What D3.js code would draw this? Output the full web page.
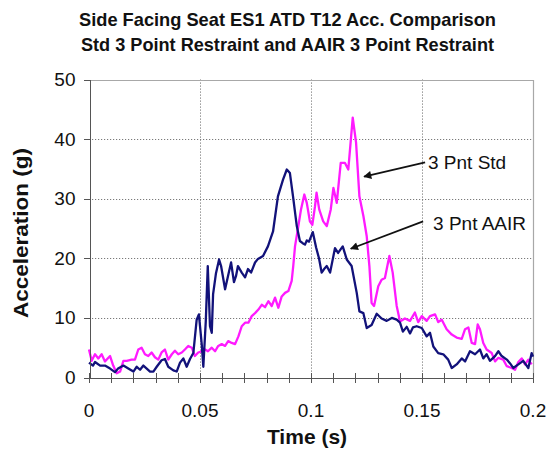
<!DOCTYPE html>
<html lang="en">
    <head>
        <meta charset="utf-8">
        <title>Side Facing Seat ES1 ATD T12 Acc. Comparison</title>
        <!-- Load d3.js -->
        <script src="https://d3js.org/d3.v7.min.js"></script>
    </head>

    <style>
      body {
        margin: 0px;
        padding: 0px;
        background: white;
        font-family: 'Liberation Sans', Arial, sans-serif;
      }

      svg {
        display: block;
      }

      .grid line {
        stroke: #7a7a7a;
        stroke-width: 1px;
        stroke-dasharray: 1.2,1.8;
      }

      .axis path,
      .axis line {
        fill: none;
        stroke: #555;
        shape-rendering: crispEdges;
      }

      .axis text {
        font-size: 19px;
        fill: #111;
      }

      .title {
        font-size: 18.5px;
        font-weight: bold;
        fill: #111;
      }

      .axis-title {
        font-size: 21px;
        font-weight: bold;
        fill: #111;
      }

      .note {
        font-size: 19px;
        fill: #111;
      }
    </style>

    <body>
        <script type="text/javascript">
        // ---------------- Data ----------------
        var titleLines = ["Side Facing Seat ES1 ATD T12 Acc. Comparison",
                          "Std 3 Point Restraint and AAIR 3 Point Restraint"];

        var xTicks = [0, 0.05, 0.1, 0.15, 0.2];
        var xTickLabels = ["0", "0.05", "0.1", "0.15", "0.2"];
        var yTicks = [0, 10, 20, 30, 40, 50];

        // 3 Pnt AAIR (navy)
        var aairTime = [0.0000, 0.0018, 0.0027, 0.0050, 0.0072, 0.0095, 0.0117, 0.0131, 0.0155, 0.0177,
                        0.0200, 0.0215, 0.0230, 0.0245, 0.0260, 0.0275, 0.0290, 0.0305, 0.0327, 0.0342,
                        0.0357, 0.0380, 0.0395, 0.0410, 0.0425, 0.0440, 0.0455, 0.0470, 0.0485, 0.0495,
                        0.0508, 0.0515, 0.0526, 0.0535, 0.0545, 0.0553, 0.0559, 0.0572, 0.0586, 0.0595,
                        0.0613, 0.0626, 0.0640, 0.0653, 0.0662, 0.0671, 0.0688, 0.0703, 0.0716, 0.0730,
                        0.0748, 0.0761, 0.0784, 0.0806, 0.0829, 0.0851, 0.0874, 0.0891, 0.0905, 0.0919,
                        0.0936, 0.0950, 0.0964, 0.0973, 0.0981, 0.0991, 0.1008, 0.1023, 0.1036, 0.1048,
                        0.1059, 0.1071, 0.1086, 0.1108, 0.1122, 0.1143, 0.1161, 0.1183, 0.1206, 0.1218,
                        0.1236, 0.1251, 0.1273, 0.1296, 0.1318, 0.1341, 0.1364, 0.1386, 0.1401, 0.1414,
                        0.1431, 0.1446, 0.1459, 0.1476, 0.1499, 0.1521, 0.1536, 0.1551, 0.1573, 0.1596,
                        0.1618, 0.1634, 0.1656, 0.1679, 0.1694, 0.1716, 0.1739, 0.1761, 0.1776, 0.1791,
                        0.1806, 0.1829, 0.1844, 0.1859, 0.1882, 0.1896, 0.1911, 0.1934, 0.1956, 0.1979,
                        0.1994, 0.2000];
        var aairAcc  = [2.5, 2.0, 2.6, 2.0, 2.0, 1.5, 0.9, 1.5, 2.0, 1.5,
                        1.0, 1.8, 1.3, 2.0, 1.5, 1.0, 1.0, 1.8, 2.9, 3.1,
                        1.8, 1.2, 1.0, 2.5, 3.2, 1.8, 3.1, 4.1, 9.7, 10.6,
                        5.5, 1.8, 9.4, 18.7, 8.6, 7.5, 14.0, 17.5, 19.8, 18.7,
                        14.8, 17.0, 19.3, 16.0, 17.0, 18.7, 17.6, 16.8, 18.2, 17.6,
                        19.3, 19.9, 20.4, 22.0, 24.5, 30.4, 33.2, 34.9, 34.3, 30.4,
                        25.4, 22.9, 22.5, 22.3, 23.0, 22.8, 24.4, 21.8, 20.0, 17.6,
                        18.2, 18.7, 17.6, 21.7, 20.9, 22.0, 19.8, 18.7, 14.2, 11.1,
                        10.8, 8.3, 8.8, 10.7, 9.9, 9.5, 10.0, 9.7, 9.2, 7.7,
                        8.5, 7.4, 8.4, 8.6, 8.3, 6.9, 7.5, 5.2, 4.1, 3.9,
                        3.0, 1.6, 2.2, 3.2, 2.7, 4.4, 3.9, 4.7, 3.2, 3.9,
                        2.8, 3.6, 4.4, 3.6, 3.0, 2.4, 1.6, 2.2, 2.8, 1.6,
                        4.1, 3.5];

        // 3 Pnt Std (magenta)
        var stdTime = [0.0000, 0.0012, 0.0027, 0.0042, 0.0057, 0.0072, 0.0095, 0.0109, 0.0125, 0.0140,
                       0.0155, 0.0170, 0.0192, 0.0207, 0.0222, 0.0237, 0.0252, 0.0267, 0.0282, 0.0297,
                       0.0312, 0.0327, 0.0342, 0.0357, 0.0373, 0.0387, 0.0402, 0.0418, 0.0432, 0.0447,
                       0.0463, 0.0477, 0.0492, 0.0508, 0.0523, 0.0536, 0.0553, 0.0568, 0.0582, 0.0598,
                       0.0613, 0.0627, 0.0643, 0.0658, 0.0673, 0.0688, 0.0703, 0.0718, 0.0733, 0.0748,
                       0.0763, 0.0778, 0.0793, 0.0808, 0.0823, 0.0838, 0.0853, 0.0868, 0.0883, 0.0898,
                       0.0913, 0.0920, 0.0928, 0.0943, 0.0955, 0.0970, 0.0981, 0.0995, 0.1006, 0.1018,
                       0.1025, 0.1037, 0.1055, 0.1071, 0.1089, 0.1101, 0.1116, 0.1134, 0.1153, 0.1168,
                       0.1188, 0.1203, 0.1218, 0.1236, 0.1251, 0.1263, 0.1273, 0.1284, 0.1303, 0.1318,
                       0.1333, 0.1353, 0.1368, 0.1386, 0.1401, 0.1423, 0.1446, 0.1468, 0.1483, 0.1499,
                       0.1521, 0.1536, 0.1559, 0.1573, 0.1589, 0.1611, 0.1634, 0.1656, 0.1679, 0.1694,
                       0.1709, 0.1724, 0.1739, 0.1751, 0.1761, 0.1776, 0.1791, 0.1814, 0.1829, 0.1844,
                       0.1866, 0.1882, 0.1904, 0.1919, 0.1934, 0.1949, 0.1964, 0.1979, 0.1994];
        var stdAcc  = [4.7, 2.8, 3.9, 3.2, 3.9, 2.7, 3.6, 2.0, 0.7, 1.0,
                       2.8, 2.8, 3.0, 3.0, 4.7, 5.0, 3.9, 3.6, 4.2, 3.4,
                       3.0, 4.2, 4.7, 3.0, 3.9, 4.5, 3.9, 4.2, 4.7, 5.3,
                       5.0, 3.6, 4.2, 4.4, 4.7, 4.4, 5.0, 4.4, 5.3, 5.6,
                       5.3, 6.1, 5.8, 5.6, 6.9, 8.6, 9.2, 9.2, 10.3, 10.8,
                       11.4, 12.2, 11.8, 12.8, 12.0, 13.4, 11.7, 13.6, 14.2, 14.5,
                       16.2, 18.7, 22.0, 25.4, 28.2, 30.7, 29.3, 26.2, 25.6, 28.7,
                       31.0, 28.2, 26.2, 25.4, 28.2, 31.8, 29.3, 36.0, 36.0, 34.9,
                       43.6, 39.4, 30.4, 27.1, 23.7, 18.7, 12.5, 12.0, 15.3, 16.4,
                       16.7, 20.4, 17.6, 12.0, 9.4, 9.9, 9.5, 10.9, 9.3, 10.3,
                       9.5, 10.3, 10.6, 9.3, 9.7, 8.1, 7.2, 6.7, 6.5, 8.1,
                       8.4, 5.8, 5.6, 8.9, 8.1, 5.8, 4.7, 4.1, 2.7, 3.3,
                       3.0, 1.9, 1.6, 1.3, 2.6, 3.2, 2.2, 3.0, 2.2];

        // arrow notes, positions in data units
        var noteLabels = ["3 Pnt Std", "3 Pnt AAIR"];
        var noteText   = [[0.1527, 34.9], [0.1550, 24.8]];
        var noteTail   = [[0.1514, 36.1], [0.1505, 26.2]];
        var noteTip    = [[0.1239, 33.7], [0.1179, 21.6]];

        // ---------------- Layout ----------------
        var width = 548;
        var height = 450;
        var plotLeft = 89, plotRight = 533, plotTop = 79.5, plotBottom = 377.5;

        var svg = d3.select("body").append("svg")
            .attr("width", width)
            .attr("height", height);

        var x = d3.scaleLinear().domain([0, 0.2]).range([plotLeft, plotRight]);
        var y = d3.scaleLinear().domain([0, 50]).range([plotBottom, plotTop]);

        // arrow head
        svg.append("defs").append("marker")
            .attr("id", "arrow")
            .attr("viewBox", "0 0 10 10")
            .attr("refX", 9)
            .attr("refY", 5)
            .attr("markerWidth", 10)
            .attr("markerHeight", 8)
            .attr("markerUnits", "userSpaceOnUse")
            .attr("orient", "auto")
            .append("path")
            .attr("d", "M0,0 L10,5 L0,10 z")
            .attr("fill", "#111");

        // Grid (dotted)
        var grid = svg.append("g").attr("class", "grid");

        grid.selectAll("line.h")
            .data(yTicks.filter(function(d) { return d > 0 && d < 50; }))
            .enter().append("line")
            .attr("class", "h")
            .attr("x1", plotLeft).attr("x2", plotRight)
            .attr("y1", function(d) { return Math.round(y(d)) + 0.5; })
            .attr("y2", function(d) { return Math.round(y(d)) + 0.5; });

        grid.selectAll("line.v")
            .data(xTicks.filter(function(d) { return d > 0 && d < 0.2; }))
            .enter().append("line")
            .attr("class", "v")
            .attr("y1", plotTop).attr("y2", plotBottom)
            .attr("x1", function(d) { return Math.round(x(d)) + 0.5; })
            .attr("x2", function(d) { return Math.round(x(d)) + 0.5; });

        // plot border top + right (light gray)
        svg.append("path")
            .attr("d", "M" + plotLeft + "," + (Math.round(plotTop) + 0.5) + "H" + (Math.round(plotRight) + 0.5) + "V" + plotBottom)
            .attr("fill", "none")
            .attr("stroke", "#a8a8a8")
            .attr("stroke-width", 1.2);

        // Lines
        var line = d3.line()
            .x(function(d) { return x(d[0]); })
            .y(function(d) { return y(d[1]); });

        svg.append("path")
            .datum(d3.zip(stdTime, stdAcc))
            .attr("fill", "none")
            .attr("stroke", "#ff1aff")
            .attr("stroke-width", 2.3)
            .attr("stroke-linejoin", "round")
            .attr("d", line);

        svg.append("path")
            .datum(d3.zip(aairTime, aairAcc))
            .attr("fill", "none")
            .attr("stroke", "#12127a")
            .attr("stroke-width", 2.3)
            .attr("stroke-linejoin", "round")
            .attr("d", line);

        // Axes
        var yAxis = d3.axisLeft(y)
            .tickValues(yTicks)
            .tickSize(6)
            .tickPadding(8)
            .tickSizeOuter(0);

        svg.append("g")
            .attr("class", "axis")
            .attr("transform", "translate(" + (plotLeft + 0.5) + ",0)")
            .call(yAxis);

        var xAxis = d3.axisBottom(x)
            .ticks(20)
            .tickSize(5)
            .tickSizeOuter(0)
            .tickFormat(function(d) { return ""; });

        var gx = svg.append("g")
            .attr("class", "axis")
            .attr("transform", "translate(0," + (Math.round(plotBottom) - 0.5) + ")")
            .call(xAxis);
        // ticks cross the axis
        gx.selectAll(".tick line").attr("y1", -5).attr("y2", 5);

        svg.append("g")
            .attr("class", "axis")
            .selectAll("text")
            .data(xTicks)
            .enter().append("text")
            .attr("x", function(d) { return x(d); })
            .attr("y", 417)
            .attr("text-anchor", "middle")
            .text(function(d, i) { return xTickLabels[i]; });

        // Titles
        svg.selectAll("text.title")
            .data(titleLines)
            .enter().append("text")
            .attr("class", "title")
            .attr("x", 287.5)
            .attr("y", function(d, i) { return 25.5 + i * 25; })
            .attr("text-anchor", "middle")
            .attr("textLength", function(d, i) { return i == 0 ? 417 : 413; })
            .attr("lengthAdjust", "spacingAndGlyphs")
            .text(function(d) { return d; });

        svg.append("text")
            .attr("class", "axis-title")
            .attr("x", 307)
            .attr("y", 444)
            .attr("text-anchor", "middle")
            .text("Time (s)");

        svg.append("text")
            .attr("class", "axis-title")
            .attr("transform", "translate(28,233) rotate(-90)")
            .attr("text-anchor", "middle")
            .attr("textLength", 170)
            .attr("lengthAdjust", "spacingAndGlyphs")
            .text("Acceleration (g)");

        // Notes with arrows
        svg.selectAll("line.arrow")
            .data(noteLabels)
            .enter().append("line")
            .attr("class", "arrow")
            .attr("x1", function(d, i) { return x(noteTail[i][0]); })
            .attr("y1", function(d, i) { return y(noteTail[i][1]); })
            .attr("x2", function(d, i) { return x(noteTip[i][0]); })
            .attr("y2", function(d, i) { return y(noteTip[i][1]); })
            .attr("stroke", "#111")
            .attr("stroke-width", 1.7)
            .attr("marker-end", "url(#arrow)");

        svg.selectAll("text.note")
            .data(noteLabels)
            .enter().append("text")
            .attr("class", "note")
            .attr("x", function(d, i) { return x(noteText[i][0]); })
            .attr("y", function(d, i) { return y(noteText[i][1]); })
            .text(function(d) { return d; });
        </script>
    </body>
</html>
